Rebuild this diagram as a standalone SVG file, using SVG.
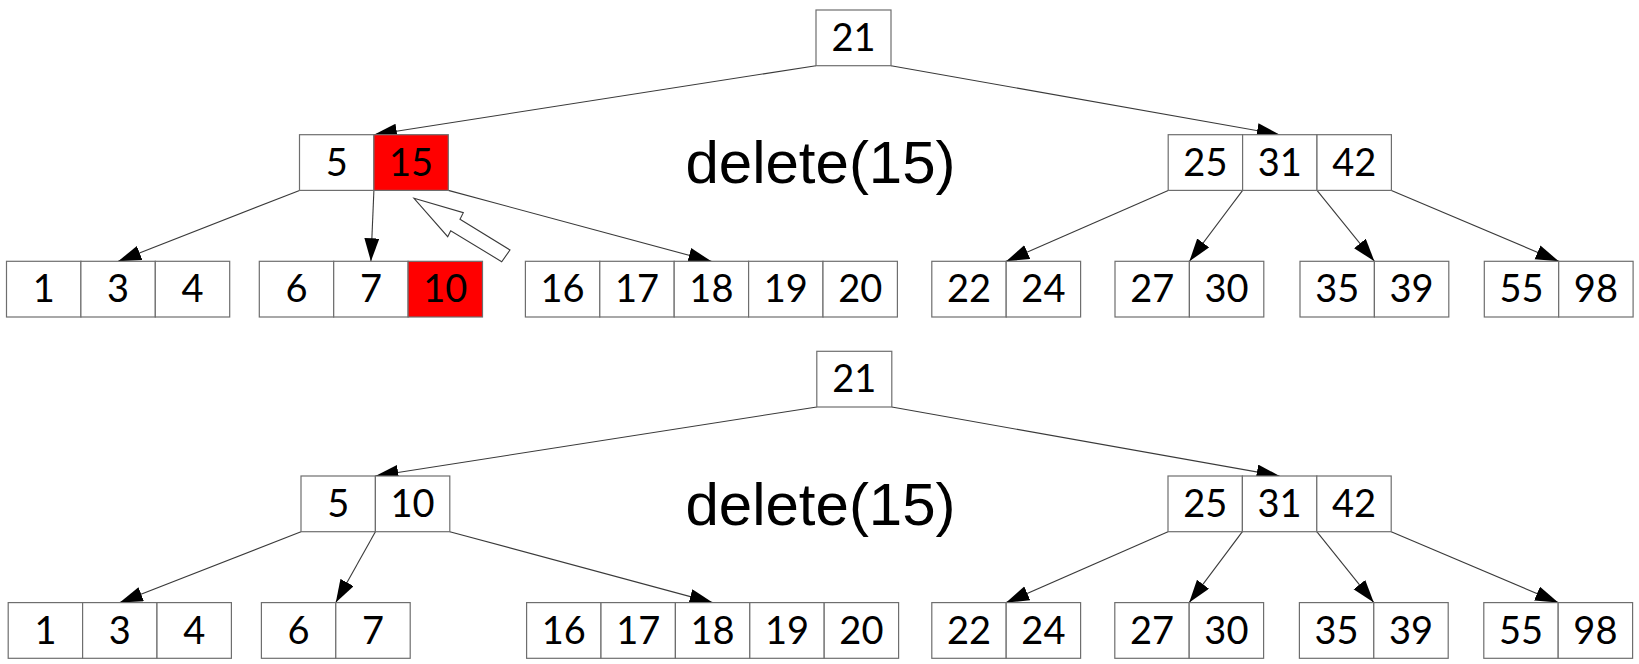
<svg xmlns="http://www.w3.org/2000/svg" width="1639" height="664" viewBox="0 0 1639 664">
  <defs>
    <marker id="arrow" markerUnits="userSpaceOnUse" markerWidth="24" markerHeight="16" refX="23" refY="7.5" orient="auto">
      <path d="M0,0 L23,7.5 L0,15 z" fill="#000"/>
    </marker>
    <style>
      .cell { fill: #fff; stroke: #6e6e6e; stroke-width: 1.2; }
      .hot { fill: #ff0000; }
      .num { font-family: Lato, "Open Sans", sans-serif; font-size: 38px; fill: #000; text-anchor: middle; }
      .edge { stroke: #3a3a3a; stroke-width: 1.1; fill: none; marker-end: url(#arrow); }
      .caption { font-family: "Liberation Sans", Arial, sans-serif; font-size: 60px; fill: #000; text-anchor: middle; }
      .hint { fill: #fff; stroke: #3a3a3a; stroke-width: 1.1; }
    </style>
  </defs>
  <rect width="1639" height="664" fill="#fff"/>

  <!-- ===== Tree before deleting 15 ===== -->
  <g id="connectors-before">
    <line class="edge" x1="816" y1="65.7" x2="373.9" y2="134.7"/>
    <line class="edge" x1="891" y1="65.7" x2="1279.8" y2="134.7"/>
    <line class="edge" x1="299.5" y1="190.4" x2="118.2" y2="261.3"/>
    <line class="edge" x1="373.9" y1="190.4" x2="370.9" y2="261.3"/>
    <line class="edge" x1="448.3" y1="190.4" x2="711.4" y2="261.3"/>
    <line class="edge" x1="1168.2" y1="190.4" x2="1006.2" y2="261.3"/>
    <line class="edge" x1="1242.6" y1="190.4" x2="1189.4" y2="261.3"/>
    <line class="edge" x1="1317" y1="190.4" x2="1374.4" y2="261.3"/>
    <line class="edge" x1="1391.4" y1="190.4" x2="1558.7" y2="261.3"/>
  </g>

  <g id="root-before">
    <rect class="cell" x="816" y="10" width="75" height="55.7"/>
    <text class="num" x="853.5" y="51">21</text>
  </g>

  <g id="inner-left-before">
    <rect class="cell" x="299.5" y="134.7" width="74.4" height="55.7"/>
    <rect class="cell hot" x="373.9" y="134.7" width="74.4" height="55.7"/>
    <text class="num" x="336.7" y="175.7">5</text>
    <text class="num" x="411.1" y="175.7">15</text>
  </g>

  <g id="inner-right-before">
    <rect class="cell" x="1168.2" y="134.7" width="74.4" height="55.7"/>
    <rect class="cell" x="1242.6" y="134.7" width="74.4" height="55.7"/>
    <rect class="cell" x="1317" y="134.7" width="74.4" height="55.7"/>
    <text class="num" x="1205.4" y="175.7">25</text>
    <text class="num" x="1279.8" y="175.7">31</text>
    <text class="num" x="1354.2" y="175.7">42</text>
  </g>

  <g id="leaf-a-before">
    <rect class="cell" x="6.5" y="261.3" width="74.4" height="55.7"/>
    <rect class="cell" x="80.9" y="261.3" width="74.4" height="55.7"/>
    <rect class="cell" x="155.3" y="261.3" width="74.4" height="55.7"/>
    <text class="num" x="43.7" y="302.3">1</text>
    <text class="num" x="118.1" y="302.3">3</text>
    <text class="num" x="192.5" y="302.3">4</text>
  </g>

  <g id="leaf-b-before">
    <rect class="cell" x="259.3" y="261.3" width="74.4" height="55.7"/>
    <rect class="cell" x="333.7" y="261.3" width="74.4" height="55.7"/>
    <rect class="cell hot" x="408.1" y="261.3" width="74.4" height="55.7"/>
    <text class="num" x="296.5" y="302.3">6</text>
    <text class="num" x="370.9" y="302.3">7</text>
    <text class="num" x="445.3" y="302.3">10</text>
  </g>

  <g id="leaf-c-before">
    <rect class="cell" x="525.4" y="261.3" width="74.4" height="55.7"/>
    <rect class="cell" x="599.8" y="261.3" width="74.4" height="55.7"/>
    <rect class="cell" x="674.2" y="261.3" width="74.4" height="55.7"/>
    <rect class="cell" x="748.6" y="261.3" width="74.4" height="55.7"/>
    <rect class="cell" x="823" y="261.3" width="74.4" height="55.7"/>
    <text class="num" x="562.6" y="302.3">16</text>
    <text class="num" x="637" y="302.3">17</text>
    <text class="num" x="711.4" y="302.3">18</text>
    <text class="num" x="785.8" y="302.3">19</text>
    <text class="num" x="860.2" y="302.3">20</text>
  </g>

  <g id="leaf-d-before">
    <rect class="cell" x="931.8" y="261.3" width="74.4" height="55.7"/>
    <rect class="cell" x="1006.2" y="261.3" width="74.4" height="55.7"/>
    <text class="num" x="969" y="302.3">22</text>
    <text class="num" x="1043.4" y="302.3">24</text>
  </g>

  <g id="leaf-e-before">
    <rect class="cell" x="1115" y="261.3" width="74.4" height="55.7"/>
    <rect class="cell" x="1189.4" y="261.3" width="74.4" height="55.7"/>
    <text class="num" x="1152.2" y="302.3">27</text>
    <text class="num" x="1226.6" y="302.3">30</text>
  </g>

  <g id="leaf-f-before">
    <rect class="cell" x="1300" y="261.3" width="74.4" height="55.7"/>
    <rect class="cell" x="1374.4" y="261.3" width="74.4" height="55.7"/>
    <text class="num" x="1337.2" y="302.3">35</text>
    <text class="num" x="1411.6" y="302.3">39</text>
  </g>

  <g id="leaf-g-before">
    <rect class="cell" x="1484.3" y="261.3" width="74.4" height="55.7"/>
    <rect class="cell" x="1558.7" y="261.3" width="74.4" height="55.7"/>
    <text class="num" x="1521.5" y="302.3">55</text>
    <text class="num" x="1595.9" y="302.3">98</text>
  </g>

  <!-- hollow pointer: predecessor 10 moves up into the slot of 15 -->
  <polygon id="move-hint" class="hint" points="414,198.3 463.3,212.7 460,219.3 510,250 501.7,261.7 450.7,230.7 447.7,236.7"/>

  <text id="caption-before" class="caption" x="820.5" y="183.3">delete(15)</text>

  <!-- ===== Tree after deleting 15 ===== -->
  <g id="connectors-after">
    <line class="edge" x1="816.8" y1="407" x2="375.4" y2="476"/>
    <line class="edge" x1="891.8" y1="407" x2="1279.6" y2="476"/>
    <line class="edge" x1="301" y1="531.7" x2="119.8" y2="602.6"/>
    <line class="edge" x1="375.4" y1="531.7" x2="335.8" y2="602.6"/>
    <line class="edge" x1="449.8" y1="531.7" x2="712.6" y2="602.6"/>
    <line class="edge" x1="1168" y1="531.7" x2="1006.2" y2="602.6"/>
    <line class="edge" x1="1242.4" y1="531.7" x2="1189.2" y2="602.6"/>
    <line class="edge" x1="1316.8" y1="531.7" x2="1373.8" y2="602.6"/>
    <line class="edge" x1="1391.2" y1="531.7" x2="1558.2" y2="602.6"/>
  </g>

  <g id="root-after">
    <rect class="cell" x="816.8" y="351.3" width="75" height="55.7"/>
    <text class="num" x="854.3" y="392.3">21</text>
  </g>

  <g id="inner-left-after">
    <rect class="cell" x="301" y="476" width="74.4" height="55.7"/>
    <rect class="cell" x="375.4" y="476" width="74.4" height="55.7"/>
    <text class="num" x="338.2" y="517">5</text>
    <text class="num" x="412.6" y="517">10</text>
  </g>

  <g id="inner-right-after">
    <rect class="cell" x="1168" y="476" width="74.4" height="55.7"/>
    <rect class="cell" x="1242.4" y="476" width="74.4" height="55.7"/>
    <rect class="cell" x="1316.8" y="476" width="74.4" height="55.7"/>
    <text class="num" x="1205.2" y="517">25</text>
    <text class="num" x="1279.6" y="517">31</text>
    <text class="num" x="1354" y="517">42</text>
  </g>

  <g id="leaf-a-after">
    <rect class="cell" x="8.2" y="602.6" width="74.4" height="55.7"/>
    <rect class="cell" x="82.6" y="602.6" width="74.4" height="55.7"/>
    <rect class="cell" x="157" y="602.6" width="74.4" height="55.7"/>
    <text class="num" x="45.4" y="643.6">1</text>
    <text class="num" x="119.8" y="643.6">3</text>
    <text class="num" x="194.2" y="643.6">4</text>
  </g>

  <g id="leaf-b-after">
    <rect class="cell" x="261.4" y="602.6" width="74.4" height="55.7"/>
    <rect class="cell" x="335.8" y="602.6" width="74.4" height="55.7"/>
    <text class="num" x="298.6" y="643.6">6</text>
    <text class="num" x="373" y="643.6">7</text>
  </g>

  <g id="leaf-c-after">
    <rect class="cell" x="526.6" y="602.6" width="74.4" height="55.7"/>
    <rect class="cell" x="601" y="602.6" width="74.4" height="55.7"/>
    <rect class="cell" x="675.4" y="602.6" width="74.4" height="55.7"/>
    <rect class="cell" x="749.8" y="602.6" width="74.4" height="55.7"/>
    <rect class="cell" x="824.2" y="602.6" width="74.4" height="55.7"/>
    <text class="num" x="563.8" y="643.6">16</text>
    <text class="num" x="638.2" y="643.6">17</text>
    <text class="num" x="712.6" y="643.6">18</text>
    <text class="num" x="787" y="643.6">19</text>
    <text class="num" x="861.4" y="643.6">20</text>
  </g>

  <g id="leaf-d-after">
    <rect class="cell" x="931.8" y="602.6" width="74.4" height="55.7"/>
    <rect class="cell" x="1006.2" y="602.6" width="74.4" height="55.7"/>
    <text class="num" x="969" y="643.6">22</text>
    <text class="num" x="1043.4" y="643.6">24</text>
  </g>

  <g id="leaf-e-after">
    <rect class="cell" x="1114.8" y="602.6" width="74.4" height="55.7"/>
    <rect class="cell" x="1189.2" y="602.6" width="74.4" height="55.7"/>
    <text class="num" x="1152" y="643.6">27</text>
    <text class="num" x="1226.4" y="643.6">30</text>
  </g>

  <g id="leaf-f-after">
    <rect class="cell" x="1299.4" y="602.6" width="74.4" height="55.7"/>
    <rect class="cell" x="1373.8" y="602.6" width="74.4" height="55.7"/>
    <text class="num" x="1336.6" y="643.6">35</text>
    <text class="num" x="1411" y="643.6">39</text>
  </g>

  <g id="leaf-g-after">
    <rect class="cell" x="1483.8" y="602.6" width="74.4" height="55.7"/>
    <rect class="cell" x="1558.2" y="602.6" width="74.4" height="55.7"/>
    <text class="num" x="1521" y="643.6">55</text>
    <text class="num" x="1595.4" y="643.6">98</text>
  </g>

  <text id="caption-after" class="caption" x="820.5" y="524.5">delete(15)</text>
</svg>
